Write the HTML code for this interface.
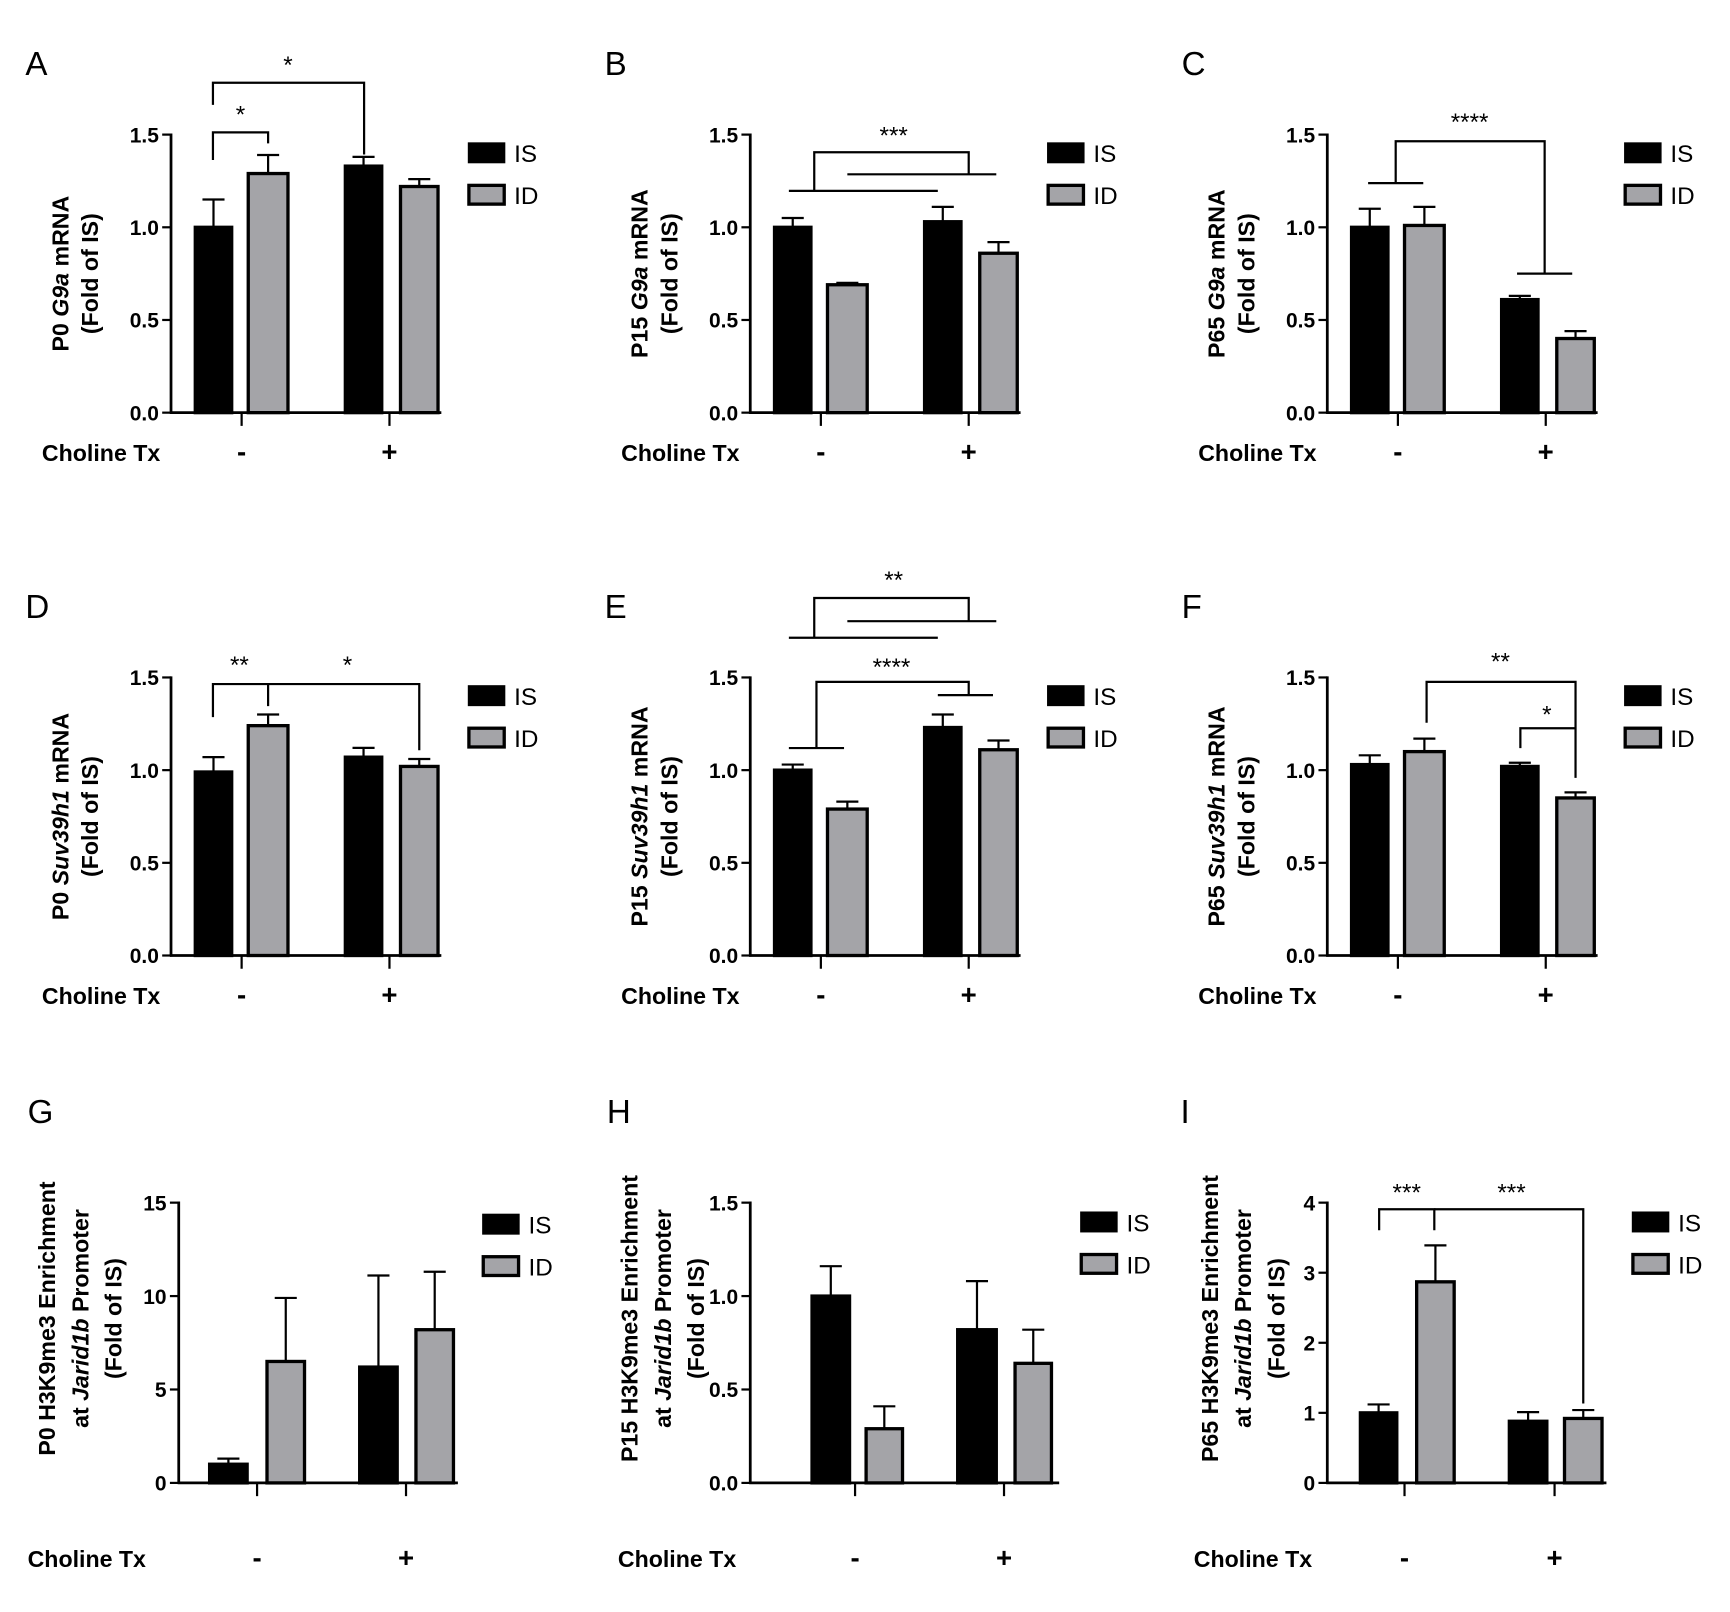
<!DOCTYPE html>
<html><head><meta charset="utf-8"><style>
html,body{margin:0;padding:0;background:#fff}
svg{display:block}
text{font-family:"Liberation Sans",Arial,sans-serif}
</style></head><body>
<svg id="s" width="1730" height="1612" viewBox="0 0 1568 1461" preserveAspectRatio="none" xmlns="http://www.w3.org/2000/svg"></svg>
<script>
var S=document.getElementById('s'),h='';
function L(x1,y1,x2,y2,w){h+='<line x1="'+x1+'" y1="'+y1+'" x2="'+x2+'" y2="'+y2+'" stroke="#000" stroke-width="'+(w||2)+'"/>';}
function T(x,y,t,o){o=o||{};h+='<text x="'+x+'" y="'+y+'" font-size="'+(o.s||18)+'" font-weight="'+(o.b?'bold':'normal')+'" text-anchor="'+(o.a||'start')+'"'+(o.r?' transform="rotate(-90 '+x+' '+y+')"':'')+'>'+t+'</text>';}
function P(pts){h+='<polyline points="'+pts+'" fill="none" stroke="#000" stroke-width="2"/>';}
function panel(p){
 var ax=p.ax,y0=p.y0,ymax=p.ymax,top=p.top,sc=(y0-top)/ymax;
 L(ax,top-1,ax,y0+1,2.5);L(ax-1,y0,ax+p.xend,y0,2.5);
 p.ticks.forEach(function(t){var y=y0-t*sc;L(ax-8,y,ax,y,2);T(ax-11,y+7,p.tf(t),{s:19,b:1,a:'end'});});
 p.bars.forEach(function(b,i){var x=ax+b[0],w=b[1]-b[0],v=p.vals[i],e=p.errs[i],y=y0-v*sc;
  var cx=x+w/2,ey=y0-(v+e)*sc;L(cx,y,cx,ey,2);L(cx-10,ey,cx+10,ey,2);
  if(i%2==1){var ey2=y0-(v-e)*sc;L(cx,y,cx,ey2,2);L(cx-10,ey2,cx+10,ey2,2);}
  h+='<rect x="'+x+'" y="'+y+'" width="'+w+'" height="'+(y0-y)+'" fill="'+(i%2?'#a4a4a8':'#000')+'" stroke="#000" stroke-width="3"/>';});
 p.xt.forEach(function(t,i){L(ax+t,y0,ax+t,y0+12,2);T(ax+t,p.ly,i?'+':'-',{s:25,b:1,a:'middle'});});
 T(p.cx,p.ly,'Choline Tx',{s:21,b:1});
 T(p.lx,p.y0-p.lab,p.letter,{s:30});
 h+='<rect x="'+p.gx+'" y="'+p.gy+'" width="32" height="17" fill="#000" stroke="#000" stroke-width="2"/>';
 h+='<rect x="'+p.gx+'" y="'+(p.gy+38)+'" width="32" height="17" fill="#a4a4a8" stroke="#000" stroke-width="3"/>';
 T(p.gx+41,p.gy+17,'IS',{s:22});T(p.gx+41,p.gy+55,'ID',{s:22});
 p.ylab.forEach(function(l){T(l[0],p.ycen,l[1],{s:21,b:1,r:1,a:'middle'});});
}
var bars12=[[22,55],[70,106],[158,191],[208,242]];
var f1=function(t){return t.toFixed(1)};
function row12(ax,y0,letter,vals,errs,ylab){panel({ax:ax,y0:y0,top:y0-252,ymax:1.5,xend:90+155,ticks:[0,.5,1,1.5],tf:f1,bars:bars12,vals:vals,errs:errs,xt:[64,198],ly:y0+44,cx:ax-117,lx:ax-132,lab:306,letter:letter,gx:ax+270,gy:y0-244,ylab:ylab,ycen:y0-126});}
row12(155,374,'A',[1,1.29,1.33,1.22],[.15,.1,.05,.04],[[62,'P0 <tspan font-style="italic">G9a</tspan> mRNA'],[89,'(Fold of IS)']]);
row12(680,374,'B',[1,.69,1.03,.86],[.05,.01,.08,.06],[[587,'P15 <tspan font-style="italic">G9a</tspan> mRNA'],[614,'(Fold of IS)']]);
row12(1203,374,'C',[1,1.01,.61,.40],[.1,.1,.02,.04],[[1110,'P65 <tspan font-style="italic">G9a</tspan> mRNA'],[1137,'(Fold of IS)']]);
row12(155,866,'D',[.99,1.24,1.07,1.02],[.08,.06,.05,.04],[[62,'P0 <tspan font-style="italic">Suv39h1</tspan> mRNA'],[89,'(Fold of IS)']]);
row12(680,866,'E',[1,.79,1.23,1.11],[.03,.04,.07,.05],[[587,'P15 <tspan font-style="italic">Suv39h1</tspan> mRNA'],[614,'(Fold of IS)']]);
row12(1203,866,'F',[1.03,1.10,1.02,.85],[.05,.07,.02,.03],[[1110,'P65 <tspan font-style="italic">Suv39h1</tspan> mRNA'],[1137,'(Fold of IS)']]);
function yl(x,pre){return [[x,pre+' H3K9me3 Enrichment'],[x+30,'at <tspan font-style="italic">Jarid1b</tspan> Promoter'],[x+60,'(Fold of IS)']];}
panel({ax:162,y0:1344,top:1090,ymax:15,xend:253,ticks:[0,5,10,15],tf:function(t){return t},bars:[[28,62],[80,114],[164,198],[215,249]],vals:[1,6.5,6.2,8.2],errs:[.3,3.4,4.9,3.1],xt:[71,206],ly:1420,cx:25,lx:25,lab:326,letter:'G',gx:438,gy:1101,ylab:yl(50,'P0'),ycen:1195});
panel({ax:680,y0:1344,top:1090,ymax:1.5,xend:280,ticks:[0,.5,1,1.5],tf:f1,bars:[[56,90],[105,138],[188,223],[240,273]],vals:[1,.29,.82,.64],errs:[.16,.12,.26,.18],xt:[95,230],ly:1420,cx:560,lx:550,lab:326,letter:'H',gx:980,gy:1099,ylab:yl(578,'P15'),ycen:1195});
panel({ax:1203,y0:1344,top:1090,ymax:4,xend:253,ticks:[0,1,2,3,4],tf:function(t){return t},bars:[[30,63],[81,115],[165,199],[215,249]],vals:[1,2.87,.88,.92],errs:[.12,.52,.13,.12],xt:[70,206],ly:1420,cx:1082,lx:1070,lab:326,letter:'I',gx:1480,gy:1099,ylab:yl(1104,'P65'),ycen:1195});
// brackets
P('193,95 193,75 330,75 330,140');T(261,66,'*',{s:22,a:'middle'});
P('193,145 193,120 243,120 243,130');T(218,111,'*',{s:22,a:'middle'});
L(715,173,850,173);L(768,158,903,158);P('738,173 738,138 878,138 878,158');T(810,130,'***',{s:22,a:'middle'});
L(1240,166,1290,166);P('1265,166 1265,128 1400,128 1400,248');L(1375,248,1425,248);T(1332,118,'****',{s:22,a:'middle'});
P('193,650 193,620 243,620 243,640');P('243,620 380,620 380,680');T(217,610,'**',{s:22,a:'middle'});T(315,610,'*',{s:22,a:'middle'});
L(715,578,850,578);L(768,563,903,563);P('738,578 738,542 878,542 878,563');T(810,533,'**',{s:22,a:'middle'});
L(715,678,765,678);P('740,678 740,618 878,618 878,630');L(850,630,900,630);T(808,612,'****',{s:22,a:'middle'});
P('1293,655 1293,618 1428,618 1428,705');T(1360,607,'**',{s:22,a:'middle'});
P('1378,678 1378,660 1428,660');T(1402,655,'*',{s:22,a:'middle'});
P('1250,1115 1250,1096 1300,1096 1300,1115');P('1300,1096 1435,1096 1435,1272');T(1275,1088,'***',{s:22,a:'middle'});T(1370,1088,'***',{s:22,a:'middle'});
S.innerHTML=h;
</script>
</body></html>
